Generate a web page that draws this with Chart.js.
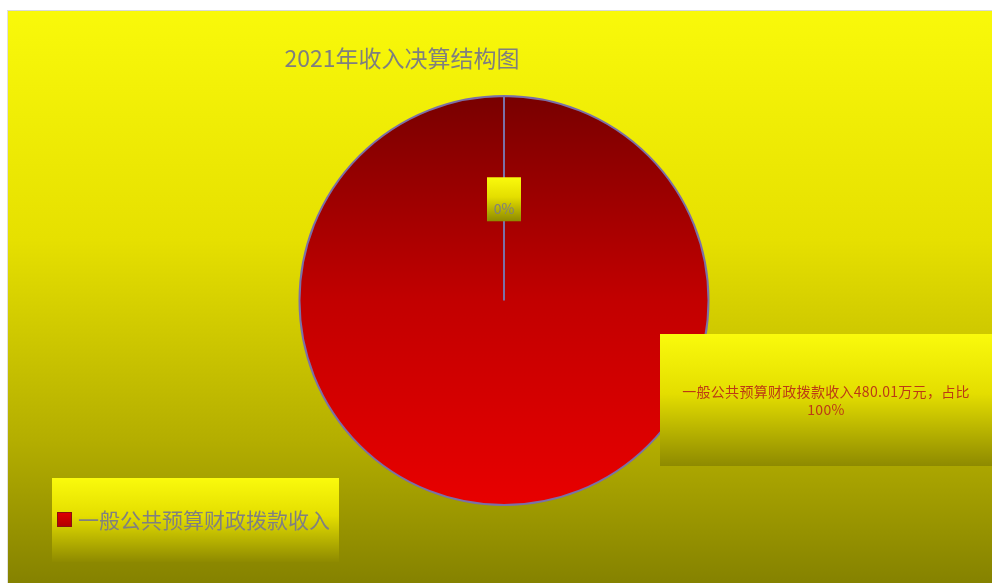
<!DOCTYPE html>
<html>
<head>
<meta charset="utf-8">
<script src="https://cdn.jsdelivr.net/npm/chart.js@4/dist/chart.umd.min.js"></script>
<style>
  html, body { margin: 0; padding: 0; background: #fff; overflow: hidden; }
  #wrap {
    position: absolute; left: 7px; top: 10px;
    width: 984px; height: 572px;
    border-top: 1px solid #d9d9d9; border-left: 1px solid #e0e0e0;
  }
  canvas { display: block; }
</style>
</head>
<body>
<div id="wrap"><canvas id="pieChart" width="984" height="572"></canvas></div>
<script>
const chartTitle = "2021年收入决算结构图";
const categories = ["一般公共预算财政拨款收入", "其他收入"];
const amounts = [480.01, 0];
const shares = ["100%", "0%"];
const unit = "万元";

const cjkFont = '"Noto Sans CJK SC", "Noto Sans", sans-serif';

function yellowBox(ctx, x, y, w, h) {
  const g = ctx.createLinearGradient(0, y, 0, y + h);
  g.addColorStop(0, "#fafa0c");
  g.addColorStop(0.45, "#e4de00");
  g.addColorStop(1, "#8e8a00");
  ctx.fillStyle = g;
  ctx.fillRect(x, y, w, h);
}

// background, title, legend and data labels
const decorations = {
  id: "decorations",
  beforeDraw(chart) {
    const ctx = chart.ctx;
    ctx.save();
    const g = ctx.createLinearGradient(0, 0, 0, chart.height);
    g.addColorStop(0, "#f9f90a");
    g.addColorStop(0.4, "#e6e000");
    g.addColorStop(0.75, "#b4ae00");
    g.addColorStop(1, "#858200");
    ctx.fillStyle = g;
    ctx.fillRect(0, 0, chart.width, chart.height);
    ctx.restore();
  },
  afterDraw(chart) {
    const ctx = chart.ctx;
    const meta = chart.getDatasetMeta(0);
    ctx.save();

    // title
    ctx.fillStyle = "#7f7f7f";
    ctx.font = "23px " + cjkFont;
    ctx.textAlign = "center";
    ctx.textBaseline = "middle";
    ctx.fillText(chartTitle, 394, 47);

    // label for the 0% slice
    const zero = meta.data[1];
    const bx = zero.x, by = zero.y - zero.outerRadius * 0.495;
    yellowBox(ctx, bx - 17, by - 22, 34, 44);
    ctx.fillStyle = "#7f7f7f";
    ctx.font = "14px " + cjkFont;
    ctx.fillText(shares[1], bx, by + 9);

    // label for the main slice
    yellowBox(ctx, 652, 323, 332, 132);
    ctx.fillStyle = "#bc3a14";
    ctx.font = "14px " + cjkFont;
    ctx.letterSpacing = "0.3px";
    ctx.fillText(categories[0] + amounts[0].toFixed(2) + unit + "，占比", 818, 381);
    ctx.fillText(shares[0], 818, 399);
    ctx.letterSpacing = "0px";

    // legend
    yellowBox(ctx, 44, 467, 287, 84);
    const sw = ctx.createLinearGradient(0, 501, 0, 516);
    sw.addColorStop(0, "#e00000");
    sw.addColorStop(1, "#b00000");
    ctx.fillStyle = sw;
    ctx.fillRect(49, 501, 15, 15);
    ctx.strokeStyle = "#8a1010";
    ctx.lineWidth = 1;
    ctx.strokeRect(49.5, 501.5, 14, 14);
    ctx.fillStyle = "#808080";
    ctx.font = "21px " + cjkFont;
    ctx.textAlign = "left";
    ctx.fillText(categories[0], 70, 509);

    ctx.restore();
  }
};

const ctx = document.getElementById("pieChart").getContext("2d");
new Chart(ctx, {
  type: "pie",
  data: {
    labels: categories,
    datasets: [
      {
        data: amounts,
        backgroundColor: function (context) {
          const area = context.chart.chartArea;
          if (!area) return "#c00000";
          const g = context.chart.ctx.createLinearGradient(0, area.top, 0, area.bottom);
          g.addColorStop(0, "#780000");
          g.addColorStop(0.5, "#c20000");
          g.addColorStop(1, "#e80000");
          return g;
        },
        borderColor: "#7b70a8",
        borderWidth: 2,
      },
    ],
  },
  options: {
    responsive: false,
    animation: false,
    layout: { padding: { top: 84, bottom: 77, left: 8, right: 0 } },
    plugins: {
      legend: { display: false },
      title: { display: false },
      tooltip: { enabled: false },
    },
  },
  plugins: [decorations],
});
</script>
</body>
</html>
